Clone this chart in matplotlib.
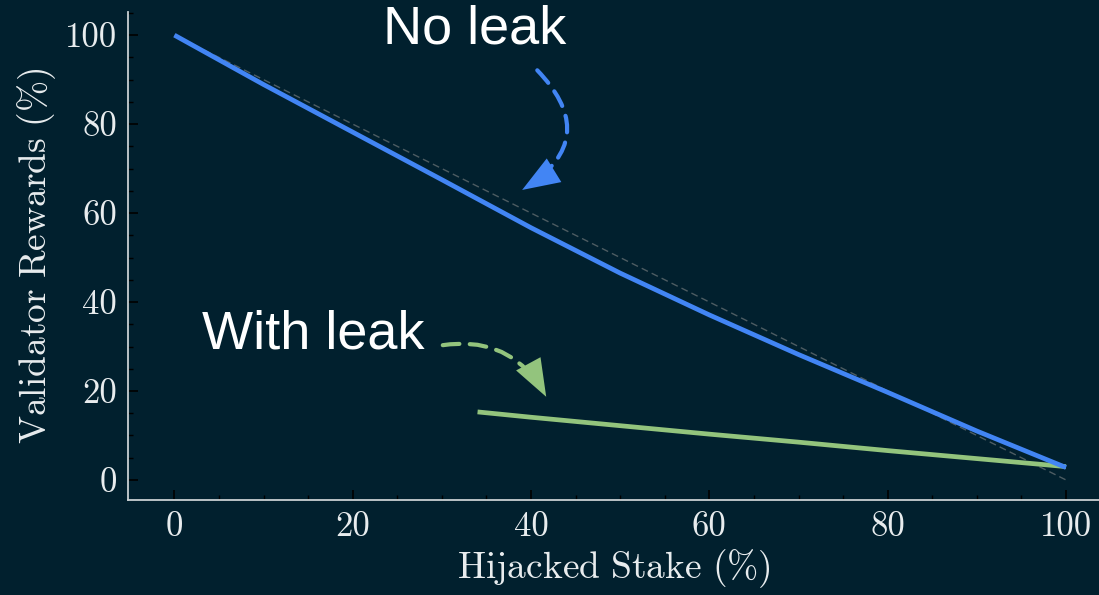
import matplotlib
matplotlib.use("Agg")
import matplotlib.pyplot as plt
import numpy as np

# Data
stake_no_leak = [0, 10, 20, 30, 40, 50, 60, 70, 80, 90, 100]
rewards_no_leak = [100, 88.9, 78.2, 67.5, 56.7, 46.5, 37.1, 28.2, 19.7, 11.0, 2.8]
stake_leak = [34, 40, 50, 60, 70, 80, 90, 100]
rewards_leak = [15.3, 14.1, 12.2, 10.3, 8.5, 6.6, 4.8, 3.0]
ref_x = [0, 100]
ref_y = [100, 0]
xticks = [0, 20, 40, 60, 80, 100]
yticks = [0, 20, 40, 60, 80, 100]

BG = "#01202e"
BLUE = "#4285f4"
GREEN = "#93c47d"
FG = "#e8ecee"

plt.rcParams['font.family'] = 'serif'
plt.rcParams['font.serif'] = ['cmr10', 'DejaVu Serif']
plt.rcParams['mathtext.fontset'] = 'cm'
plt.rcParams['axes.unicode_minus'] = False

fig = plt.figure(figsize=(10.99, 5.95), dpi=100, facecolor=BG)
ax = fig.add_axes([0.1165, 0.1597, 0.8835, 0.8201])
ax.set_facecolor(BG)

ax.plot(ref_x, ref_y, color="#4d5c62", lw=1.0, ls=(0, (5, 3)), zorder=1)
ax.plot(stake_no_leak, rewards_no_leak, color=BLUE, lw=3.4, zorder=3, solid_capstyle='butt')
ax.plot(stake_leak, rewards_leak, color=GREEN, lw=3.4, zorder=2, solid_capstyle='butt')

ax.set_xlim(-5.2, 103.7)
ax.set_ylim(-4.5, 105.2)
ax.set_xticks(xticks)
ax.set_yticks(yticks)
ax.set_xticks(np.arange(0, 105, 5), minor=True)
ax.set_yticks(np.arange(0, 110, 5), minor=True)
ax.tick_params(which='major', direction='in', length=7, width=1.2, color='#000000',
               labelcolor=FG, labelsize=25, pad=8)
ax.tick_params(which='minor', direction='in', length=3.5, width=1.0, color='#000000')

for s in ['top', 'right']:
    ax.spines[s].set_visible(False)
for s in ['left', 'bottom']:
    ax.spines[s].set_color('#c9d0d3')
    ax.spines[s].set_linewidth(1.3)

ax.set_xlabel(r'$\mathrm{Hijacked\ Stake\ (\%)}$', fontsize=27, color=FG, labelpad=3)
ax.set_ylabel(r'$\mathrm{Validator\ Rewards\ (\%)}$', fontsize=27, color=FG, labelpad=5)

sans = ['Liberation Sans', 'DejaVu Sans']
ax.text(33.7, 101.3, 'No leak', fontsize=39, color='white', family=sans,
        ha='center', va='center', zorder=5)
ax.text(15.6, 32.6, 'With leak', fontsize=39, color='white', family=sans,
        ha='center', va='center', zorder=5)


def dashed_arrow(start, end, color, rad):
    # dashed body
    ax.annotate('', xy=end, xytext=start,
                arrowprops=dict(arrowstyle='-', color=color, lw=3,
                                ls=(0, (4, 2.5)),
                                connectionstyle=f'arc3,rad={rad}',
                                shrinkA=0, shrinkB=14), zorder=4)
    # solid filled head
    ax.annotate('', xy=end, xytext=start,
                arrowprops=dict(arrowstyle='-|>,head_length=1.35,head_width=0.5',
                                mutation_scale=20, color=color, lw=0,
                                connectionstyle=f'arc3,rad={rad}',
                                shrinkA=0, shrinkB=0), zorder=4)


dashed_arrow((40.7, 92.1), (39.0, 65.2), BLUE, -0.62)
dashed_arrow((30.1, 30.3), (41.7, 18.7), GREEN, -0.35)

fig.savefig('out.png', dpi=100, facecolor=BG)
